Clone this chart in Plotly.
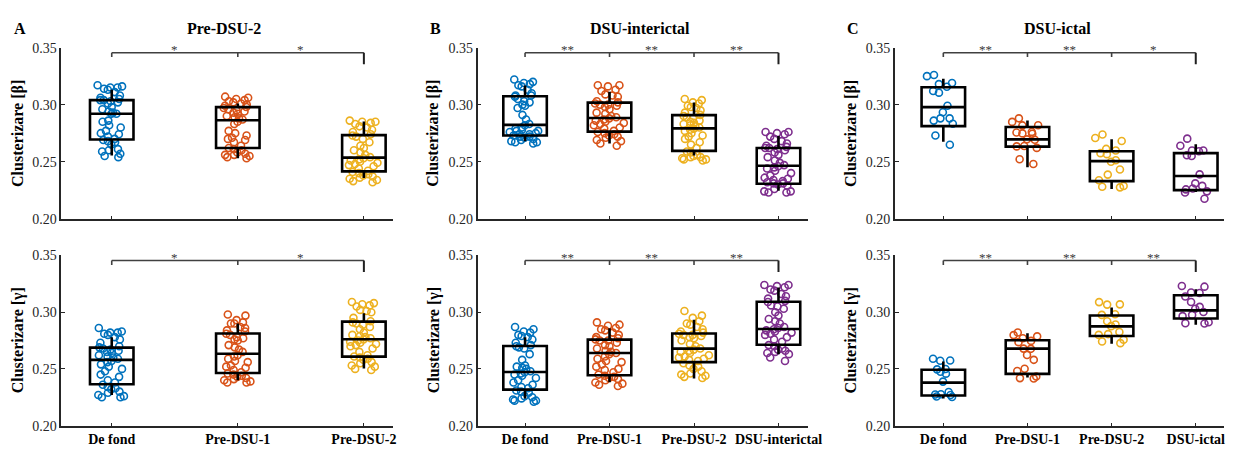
import plotly.graph_objects as go

# ---------------- data ----------------
cats_A = ["De fond", "Pre-DSU-1", "Pre-DSU-2"]
cats_B = ["De fond", "Pre-DSU-1", "Pre-DSU-2", "DSU-interictal"]
cats_C = ["De fond", "Pre-DSU-1", "Pre-DSU-2", "DSU-ictal"]
panel_titles = ["Pre-DSU-2", "DSU-interictal", "DSU-ictal"]
panel_letters = ["A", "B", "C"]
ytitles = ["Clusterizare [β]", "Clusterizare [γ]"]
yticks = [0.20, 0.25, 0.30, 0.35]

# Panel A, beta
A_beta_defond = [0.317, 0.316, 0.315, 0.315, 0.314, 0.313, 0.311, 0.308, 0.306, 0.305,
                 0.304, 0.304, 0.303, 0.302, 0.301, 0.298, 0.296, 0.294, 0.293, 0.292,
                 0.292, 0.286, 0.285, 0.282, 0.280, 0.277, 0.275, 0.274, 0.272, 0.270,
                 0.269, 0.268, 0.267, 0.265, 0.261, 0.260, 0.259, 0.257, 0.255, 0.254]
A_beta_pre1 = [0.307, 0.306, 0.305, 0.304, 0.303, 0.302, 0.301, 0.300, 0.299, 0.298,
               0.297, 0.296, 0.295, 0.294, 0.293, 0.292, 0.290, 0.289, 0.288, 0.287,
               0.285, 0.283, 0.277, 0.275, 0.273, 0.271, 0.270, 0.269, 0.267, 0.264,
               0.262, 0.261, 0.260, 0.258, 0.257, 0.256, 0.256, 0.255, 0.254, 0.253]
A_beta_pre2 = [0.286, 0.285, 0.285, 0.284, 0.283, 0.281, 0.280, 0.278, 0.276, 0.274,
               0.273, 0.272, 0.270, 0.267, 0.264, 0.262, 0.260, 0.258, 0.256, 0.254,
               0.253, 0.252, 0.251, 0.250, 0.249, 0.248, 0.247, 0.246, 0.244, 0.242,
               0.241, 0.240, 0.239, 0.238, 0.237, 0.236, 0.235, 0.234, 0.233, 0.232]
A_beta_q1 = [0.2695, 0.262, 0.2415]
A_beta_med = [0.292, 0.2863, 0.2536]
A_beta_q3 = [0.304, 0.2978, 0.2733]
A_beta_lo = [0.2555, 0.253, 0.2358]
A_beta_hi = [0.313, 0.301, 0.2852]
A_beta_stars = ["*", "*"]

# Panel A, gamma
A_gamma_defond = [0.286, 0.283, 0.282, 0.282, 0.281, 0.280, 0.278, 0.276, 0.273, 0.270,
                  0.269, 0.268, 0.267, 0.266, 0.265, 0.264, 0.262, 0.261, 0.260, 0.259,
                  0.257, 0.256, 0.254, 0.252, 0.250, 0.248, 0.245, 0.243, 0.240, 0.238,
                  0.236, 0.234, 0.233, 0.232, 0.230, 0.229, 0.227, 0.226, 0.225, 0.225]
A_gamma_pre1 = [0.298, 0.297, 0.293, 0.291, 0.290, 0.290, 0.287, 0.286, 0.284, 0.283,
                0.281, 0.280, 0.278, 0.277, 0.276, 0.275, 0.271, 0.269, 0.267, 0.265,
                0.262, 0.261, 0.259, 0.257, 0.256, 0.253, 0.252, 0.251, 0.249, 0.247,
                0.246, 0.245, 0.244, 0.243, 0.242, 0.241, 0.240, 0.239, 0.238, 0.238]
A_gamma_pre2 = [0.309, 0.308, 0.307, 0.306, 0.305, 0.302, 0.301, 0.300, 0.295, 0.292,
                0.291, 0.290, 0.289, 0.287, 0.285, 0.282, 0.280, 0.279, 0.278, 0.277,
                0.276, 0.275, 0.274, 0.273, 0.272, 0.271, 0.270, 0.268, 0.265, 0.262,
                0.261, 0.260, 0.259, 0.258, 0.256, 0.255, 0.253, 0.252, 0.250, 0.249]
A_gamma_q1 = [0.2365, 0.2464, 0.2608]
A_gamma_med = [0.258, 0.2634, 0.2761]
A_gamma_q3 = [0.2688, 0.2812, 0.2917]
A_gamma_lo = [0.2269, 0.240, 0.2504]
A_gamma_hi = [0.2778, 0.290, 0.299]
A_gamma_stars = ["*", "*"]

# Panel B, beta
B_beta_defond = [0.322, 0.320, 0.319, 0.318, 0.317, 0.316, 0.313, 0.310, 0.308, 0.308,
                 0.307, 0.305, 0.303, 0.302, 0.300, 0.299, 0.297, 0.291, 0.287, 0.283,
                 0.282, 0.280, 0.279, 0.278, 0.277, 0.277, 0.276, 0.275, 0.274, 0.274,
                 0.273, 0.272, 0.272, 0.271, 0.270, 0.269, 0.268, 0.267, 0.267, 0.266]
B_beta_pre1 = [0.317, 0.317, 0.316, 0.313, 0.312, 0.309, 0.308, 0.307, 0.303, 0.302,
               0.301, 0.300, 0.300, 0.299, 0.298, 0.296, 0.293, 0.292, 0.290, 0.289,
               0.288, 0.287, 0.286, 0.285, 0.284, 0.283, 0.282, 0.280, 0.279, 0.277,
               0.276, 0.275, 0.274, 0.273, 0.272, 0.271, 0.269, 0.268, 0.266, 0.264]
B_beta_pre2 = [0.305, 0.304, 0.302, 0.301, 0.299, 0.298, 0.297, 0.295, 0.293, 0.291,
               0.290, 0.289, 0.288, 0.286, 0.285, 0.284, 0.283, 0.282, 0.281, 0.280,
               0.279, 0.278, 0.277, 0.275, 0.273, 0.272, 0.270, 0.267, 0.265, 0.262,
               0.259, 0.258, 0.256, 0.255, 0.254, 0.254, 0.253, 0.252, 0.252, 0.251]
B_beta_inter = [0.276, 0.276, 0.275, 0.274, 0.272, 0.270, 0.268, 0.266, 0.264, 0.263,
                0.262, 0.262, 0.261, 0.260, 0.258, 0.256, 0.254, 0.251, 0.249, 0.247,
                0.246, 0.245, 0.244, 0.242, 0.240, 0.238, 0.236, 0.235, 0.234, 0.233,
                0.232, 0.231, 0.231, 0.230, 0.229, 0.226, 0.224, 0.224, 0.223, 0.223]
B_beta_q1 = [0.273, 0.2764, 0.2595, 0.2307]
B_beta_med = [0.2823, 0.2883, 0.2792, 0.2465]
B_beta_q3 = [0.3074, 0.3018, 0.2908, 0.262]
B_beta_lo = [0.268, 0.266, 0.2555, 0.2245]
B_beta_hi = [0.3167, 0.3114, 0.3018, 0.2725]
B_beta_stars = ["**", "**", "**"]

# Panel B, gamma
B_gamma_defond = [0.287, 0.285, 0.283, 0.282, 0.280, 0.279, 0.278, 0.276, 0.273, 0.271,
                  0.270, 0.269, 0.268, 0.263, 0.258, 0.253, 0.252, 0.251, 0.250, 0.248,
                  0.247, 0.246, 0.245, 0.244, 0.242, 0.240, 0.238, 0.236, 0.234, 0.233,
                  0.231, 0.230, 0.229, 0.226, 0.225, 0.224, 0.223, 0.222, 0.222, 0.221]
B_gamma_pre1 = [0.291, 0.289, 0.288, 0.286, 0.285, 0.284, 0.282, 0.280, 0.278, 0.277,
                0.276, 0.275, 0.275, 0.273, 0.271, 0.270, 0.268, 0.266, 0.265, 0.264,
                0.263, 0.261, 0.259, 0.257, 0.256, 0.254, 0.252, 0.250, 0.249, 0.247,
                0.245, 0.244, 0.243, 0.242, 0.241, 0.240, 0.238, 0.237, 0.236, 0.235]
B_gamma_pre2 = [0.301, 0.297, 0.295, 0.292, 0.290, 0.289, 0.287, 0.285, 0.283, 0.282,
                0.281, 0.280, 0.280, 0.279, 0.278, 0.277, 0.275, 0.272, 0.270, 0.268,
                0.267, 0.266, 0.265, 0.264, 0.262, 0.261, 0.260, 0.259, 0.258, 0.257,
                0.255, 0.253, 0.252, 0.250, 0.248, 0.246, 0.245, 0.244, 0.243, 0.242]
B_gamma_inter = [0.324, 0.324, 0.323, 0.322, 0.320, 0.319, 0.316, 0.314, 0.312, 0.310,
                 0.309, 0.306, 0.305, 0.303, 0.300, 0.297, 0.294, 0.292, 0.290, 0.287,
                 0.286, 0.285, 0.284, 0.283, 0.282, 0.281, 0.280, 0.278, 0.276, 0.274,
                 0.271, 0.270, 0.268, 0.267, 0.266, 0.265, 0.264, 0.263, 0.260, 0.257]
B_gamma_q1 = [0.2317, 0.2444, 0.256, 0.2713]
B_gamma_med = [0.2473, 0.264, 0.2679, 0.2852]
B_gamma_q3 = [0.2702, 0.2758, 0.2812, 0.3092]
B_gamma_lo = [0.224, 0.2382, 0.2416, 0.263]
B_gamma_hi = [0.2778, 0.2858, 0.2934, 0.3217]
B_gamma_stars = ["**", "**", "**"]

# Panel C, beta
C_beta_defond = [0.326, 0.325, 0.319, 0.318, 0.3157, 0.312, 0.3105, 0.299,
                 0.2933, 0.288, 0.288, 0.286, 0.2832, 0.273, 0.2649]
C_beta_pre1 = [0.288, 0.2849, 0.282, 0.2818, 0.2761, 0.2756, 0.2748, 0.2745,
               0.2696, 0.2693, 0.2637, 0.2634, 0.2621, 0.2522, 0.248]
C_beta_pre2 = [0.2739, 0.2708, 0.2682, 0.2612, 0.2598, 0.2575, 0.2566, 0.2513,
               0.250, 0.2432, 0.2387, 0.2338, 0.2288, 0.228, 0.2275]
C_beta_ictal = [0.2702, 0.264, 0.2598, 0.2598, 0.2592, 0.2556, 0.255, 0.2389,
                0.231, 0.2288, 0.2265, 0.2257, 0.224, 0.223, 0.2175]
C_beta_q1 = [0.2812, 0.2632, 0.233, 0.2251]
C_beta_med = [0.2978, 0.2696, 0.2505, 0.2375]
C_beta_q3 = [0.3153, 0.2804, 0.2592, 0.2575]
C_beta_lo = [0.2674, 0.2451, 0.226, 0.2235]
C_beta_hi = [0.3227, 0.286, 0.2696, 0.2654]
C_beta_stars = ["**", "**", "*"]

# Panel C, gamma
C_gamma_defond = [0.2589, 0.2572, 0.2574, 0.2499, 0.2496, 0.2475, 0.2458, 0.2388,
                  0.2297, 0.2277, 0.2275, 0.2270, 0.2257, 0.2252]
C_gamma_pre1 = [0.2821, 0.2798, 0.2787, 0.2770, 0.2747, 0.2736, 0.2679, 0.2677,
                0.2623, 0.258, 0.2501, 0.2481, 0.2433, 0.2419, 0.2416]
C_gamma_pre2 = [0.3089, 0.3067, 0.3069, 0.2982, 0.2976, 0.292, 0.2891, 0.2877,
                0.2826, 0.2807, 0.2800, 0.2758, 0.2741, 0.2727]
C_gamma_ictal = [0.3231, 0.3225, 0.3174, 0.3169, 0.3138, 0.309, 0.3047, 0.303,
                 0.3002, 0.2976, 0.2965, 0.2911, 0.2903, 0.290]
C_gamma_q1 = [0.2266, 0.2456, 0.279, 0.2945]
C_gamma_med = [0.2379, 0.2679, 0.2875, 0.3016]
C_gamma_q3 = [0.2492, 0.2753, 0.2971, 0.3149]
C_gamma_lo = [0.224, 0.2425, 0.2722, 0.2889]
C_gamma_hi = [0.2566, 0.2815, 0.3042, 0.3203]
C_gamma_stars = ["**", "**", "**"]

# ---------------- styling / layout ----------------
W, H = 1251, 452
COLORS = ["#0072BD", "#D95319", "#EDB120", "#7E2F8E"]
FONT = "Liberation Serif"
AXC = "#262626"

# pixel geometry of the panels: (left, right) per column, (top, bottom) per row
COLS_PX = [(62, 397), (483, 817), (905, 1238)]
ROWS_PX = [(42, 219), (257, 433)]
# category-1 and last-category pixel centres per column
CAT_PX = [(113, 368), (531, 787.3), (954, 1209.3)]
BOX_PX = 44
PTS_PX = 34

panels = [
    # row, col, cats, groups, q1, med, q3, lo, hi, stars
    (0, 0, cats_A, [A_beta_defond, A_beta_pre1, A_beta_pre2],
     A_beta_q1, A_beta_med, A_beta_q3, A_beta_lo, A_beta_hi, A_beta_stars),
    (0, 1, cats_B, [B_beta_defond, B_beta_pre1, B_beta_pre2, B_beta_inter],
     B_beta_q1, B_beta_med, B_beta_q3, B_beta_lo, B_beta_hi, B_beta_stars),
    (0, 2, cats_C, [C_beta_defond, C_beta_pre1, C_beta_pre2, C_beta_ictal],
     C_beta_q1, C_beta_med, C_beta_q3, C_beta_lo, C_beta_hi, C_beta_stars),
    (1, 0, cats_A, [A_gamma_defond, A_gamma_pre1, A_gamma_pre2],
     A_gamma_q1, A_gamma_med, A_gamma_q3, A_gamma_lo, A_gamma_hi, A_gamma_stars),
    (1, 1, cats_B, [B_gamma_defond, B_gamma_pre1, B_gamma_pre2, B_gamma_inter],
     B_gamma_q1, B_gamma_med, B_gamma_q3, B_gamma_lo, B_gamma_hi, B_gamma_stars),
    (1, 2, cats_C, [C_gamma_defond, C_gamma_pre1, C_gamma_pre2, C_gamma_ictal],
     C_gamma_q1, C_gamma_med, C_gamma_q3, C_gamma_lo, C_gamma_hi, C_gamma_stars),
]

fig = go.Figure()
shapes = []
annotations = []
layout_axes = {}

for idx, (row, col, cats, groups, q1, med, q3, lo, hi, stars) in enumerate(panels):
    n = len(cats)
    k = idx + 1
    xa = "x" if k == 1 else f"x{k}"
    ya = "y" if k == 1 else f"y{k}"
    left, right = COLS_PX[col]
    top, bottom = ROWS_PX[row]
    c1, cn = CAT_PX[col]
    unit = (cn - c1) / (n - 1)
    xrange = [1 - (c1 - left) / unit, n + (right - cn) / unit]
    pos = list(range(1, n + 1))

    # jittered points
    for i, vals in enumerate(groups):
        fig.add_trace(go.Box(
            y=vals, x0=pos[i], boxpoints="all", jitter=1, pointpos=0,
            width=PTS_PX / unit, whiskerwidth=0,
            line=dict(width=0, color="rgba(0,0,0,0)"), fillcolor="rgba(0,0,0,0)",
            marker=dict(symbol="circle-open", size=7, color=COLORS[i],
                        line=dict(width=1.6, color=COLORS[i])),
            hoverinfo="skip", xaxis=xa, yaxis=ya, showlegend=False))
    # boxes
    fig.add_trace(go.Box(
        x=pos, q1=q1, median=med, q3=q3, lowerfence=lo, upperfence=hi,
        boxpoints=False, width=BOX_PX / unit, whiskerwidth=0,
        line=dict(width=2.6, color="black"), fillcolor="rgba(0,0,0,0)",
        xaxis=xa, yaxis=ya, showlegend=False))

    # significance bracket
    ybar, ytick, ylast = 0.3455, 0.3417, 0.3355
    shapes.append(dict(type="line", xref=xa, yref=ya, x0=pos[0], x1=pos[-1], y0=ybar, y1=ybar,
                       line=dict(color="#404040", width=1.6)))
    for p in pos[:-1]:
        shapes.append(dict(type="line", xref=xa, yref=ya, x0=p, x1=p, y0=ybar, y1=ytick,
                           line=dict(color="#404040", width=1.6)))
    shapes.append(dict(type="line", xref=xa, yref=ya, x0=pos[-1], x1=pos[-1], y0=ybar, y1=ylast,
                       line=dict(color="#202020", width=2)))
    for j, s in enumerate(stars):
        annotations.append(dict(xref=xa, yref=ya, x=pos[j] + 0.5, y=ybar, text=s,
                                showarrow=False, yanchor="middle", yshift=3,
                                font=dict(family=FONT, size=13, color="#3a3a3a")))

    # axes
    layout_axes["xaxis" if k == 1 else f"xaxis{k}"] = dict(
        domain=[left / W, right / W], range=xrange, anchor=ya,
        tickmode="array", tickvals=pos,
        ticktext=[f"<b>{c}</b>" for c in cats] if row == 1 else [""] * n,
        showticklabels=(row == 1),
        ticks="inside", ticklen=3, tickwidth=1, tickcolor=AXC,
        showline=True, linecolor=AXC, linewidth=1.5, showgrid=False, zeroline=False,
        tickfont=dict(family=FONT, size=14, color="black"), fixedrange=True)
    layout_axes["yaxis" if k == 1 else f"yaxis{k}"] = dict(
        domain=[1 - bottom / H, 1 - top / H], range=[0.20, 0.35], anchor=xa,
        tickmode="array", tickvals=yticks, ticktext=[f"{t:.2f}" for t in yticks],
        ticks="inside", ticklen=4, tickwidth=1, tickcolor=AXC,
        showline=True, linecolor=AXC, linewidth=1.5, showgrid=False, zeroline=False,
        tickfont=dict(family=FONT, size=14, color=AXC), fixedrange=True)

    # y title
    ytitle_x = [18, 438.5, 860.5][col]
    annotations.append(dict(xref="paper", yref="paper", x=ytitle_x / W,
                            y=1 - (top + bottom) / 2 / H, text=f"<b>{ytitles[row]}</b>",
                            textangle=-90, showarrow=False, xanchor="center", yanchor="middle",
                            font=dict(family=FONT, size=16, color="black")))
    if row == 0:
        annotations.append(dict(xref="paper", yref="paper", x=(left + right) / 2 / W - 0.002,
                                y=1 - 22 / H, text=f"<b>{panel_titles[col]}</b>",
                                showarrow=False, xanchor="center", yanchor="middle",
                                font=dict(family=FONT, size=16, color="black")))
        letter_x = [20, 440, 862.5][col]
        annotations.append(dict(xref="paper", yref="paper", x=letter_x / W,
                                y=1 - 22 / H, text=f"<b>{panel_letters[col]}</b>",
                                showarrow=False, xanchor="center", yanchor="middle",
                                font=dict(family=FONT, size=16, color="black")))

fig.update_layout(
    width=W, height=H, margin=dict(l=0, r=0, t=0, b=0),
    paper_bgcolor="white", plot_bgcolor="white",
    showlegend=False, boxmode="overlay",
    shapes=shapes, annotations=annotations, **layout_axes)

fig.write_html("out.html")
